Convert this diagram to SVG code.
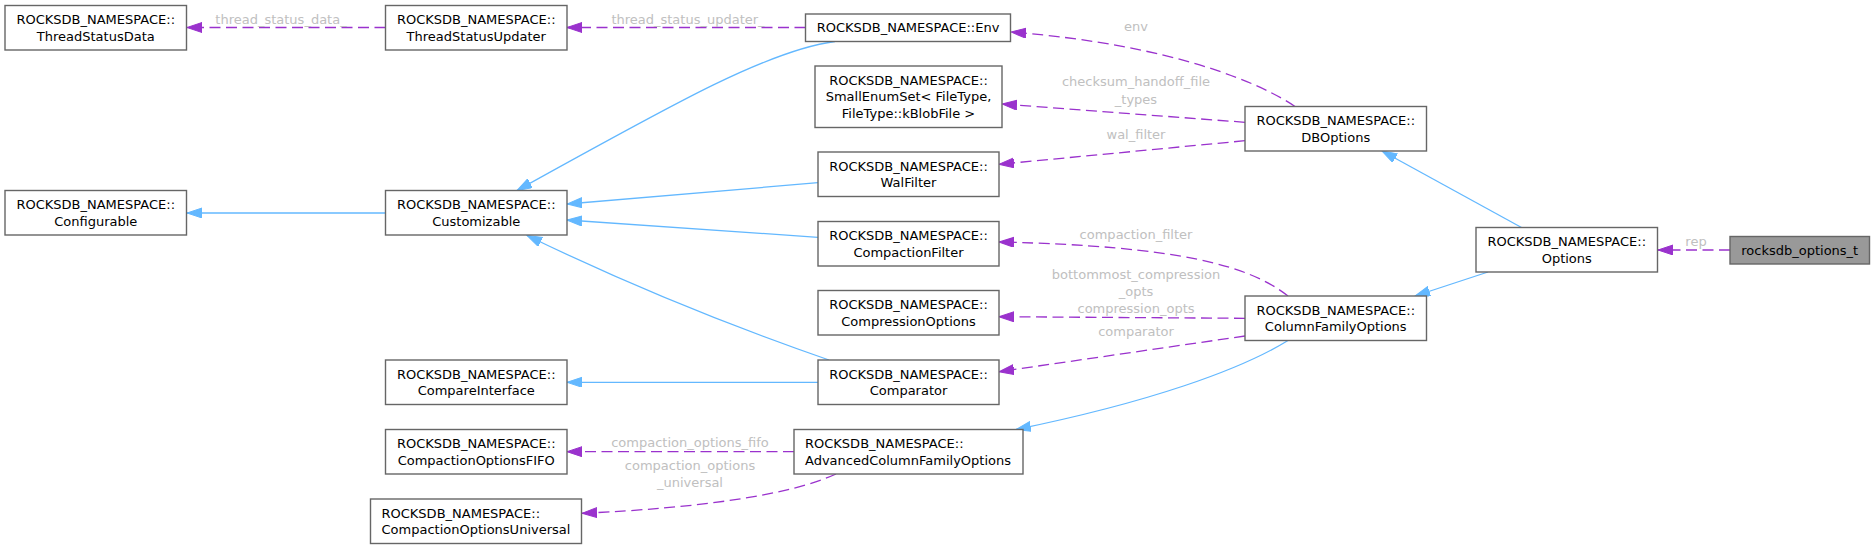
<svg xmlns="http://www.w3.org/2000/svg" width="1875" height="549" viewBox="0 0 1875 549">
<style>
.nb{fill:#ffffff;stroke:#666666;stroke-width:1.4}
.nh{fill:#999999;stroke:#666666;stroke-width:1.4}
text{font-family:"DejaVu Sans","Liberation Sans",sans-serif;font-size:13px}
.t{fill:#000000;text-anchor:middle}
.tl{fill:#000000;text-anchor:start}
.lb{fill:#c0c0c0;text-anchor:middle}
.inh{fill:none;stroke:#63b8ff;stroke-width:1.3;marker-end:url(#ab)}
.use{fill:none;stroke:#9a32cd;stroke-width:1.3;stroke-dasharray:11,5.5;marker-end:url(#ap)}
</style>
<defs>
<marker id="ab" markerUnits="userSpaceOnUse" markerWidth="16" markerHeight="11" refX="15" refY="5" orient="auto" viewBox="0 0 16 11">
<path d="M0,0 L15,5 L0,10 z" fill="#63b8ff" stroke="#63b8ff" stroke-width="1"/>
</marker>
<marker id="ap" markerUnits="userSpaceOnUse" markerWidth="16" markerHeight="11" refX="15" refY="5" orient="auto" viewBox="0 0 16 11">
<path d="M0,0 L15,5 L0,10 z" fill="#9a32cd" stroke="#9a32cd" stroke-width="1"/>
</marker>
</defs>
<g id="edges">
<path class="use" d="M385.5,27.5 L187,27.5"/>
<path class="use" d="M805.5,27.5 L567,27.5"/>
<path class="use" d="M1295,106.5 C1262,84 1175,45 1011,32"/>
<path class="use" d="M1245,122.3 L1002,104"/>
<path class="use" d="M1245,140.7 L999,164.3"/>
<path class="use" d="M1288,296 C1250,266 1180,246 999,242"/>
<path class="use" d="M1245,318.3 L999,316.7"/>
<path class="use" d="M1245,336 L999,371.7"/>
<path class="inh" d="M1288,340.5 C1240,370 1150,402 1016,429.5"/>
<path class="inh" d="M829,360 C725,324 625,283 527,235.5"/>
<path class="inh" d="M818,382.3 L567,382.3"/>
<path class="inh" d="M818,182.7 L567,204"/>
<path class="inh" d="M818,237.3 L567,220"/>
<path class="inh" d="M835,41.5 C770,50 680,100 517,190.5"/>
<path class="inh" d="M385.5,213 L187,213"/>
<path class="use" d="M794,451.7 L567,451.7"/>
<path class="use" d="M836,474 C790,495 700,508 582,513.3"/>
<path class="use" d="M1730,250 L1658,250"/>
<path class="inh" d="M1521.5,227.5 L1382,151"/>
<path class="inh" d="M1488,272 L1415,296"/>
<text class="lb" x="281" y="23.7">thread_status_data_</text>
<text class="lb" x="688" y="23.7">thread_status_updater_</text>
<text class="lb" x="1136" y="31.4">env</text>
<text class="lb" x="1136" y="86.4">checksum_handoff_file</text>
<text class="lb" x="1136" y="103.7">_types</text>
<text class="lb" x="1136" y="139.4">wal_filter</text>
<text class="lb" x="1136" y="239">compaction_filter</text>
<text class="lb" x="1136" y="279">bottommost_compression</text>
<text class="lb" x="1136" y="296.4">_opts</text>
<text class="lb" x="1136" y="313">compression_opts</text>
<text class="lb" x="1136" y="336.4">comparator</text>
<text class="lb" x="690" y="447.4">compaction_options_fifo</text>
<text class="lb" x="690" y="470.4">compaction_options</text>
<text class="lb" x="690" y="487">_universal</text>
<text class="lb" x="1696" y="246.4">rep</text>
</g>
<g id="ThreadStatusData"><rect class="nb" x="5" y="5.5" width="181.5" height="44.5"/><text class="t" x="95.75" y="24.1">ROCKSDB_NAMESPACE::</text><text class="t" x="95.75" y="40.9">ThreadStatusData</text></g>
<g id="ThreadStatusUpdater"><rect class="nb" x="385.5" y="5.5" width="181.5" height="44.5"/><text class="t" x="476.25" y="24.1">ROCKSDB_NAMESPACE::</text><text class="t" x="476.25" y="40.9">ThreadStatusUpdater</text></g>
<g id="Env"><rect class="nb" x="805.5" y="14" width="205" height="27.5"/><text class="t" x="908" y="32.4">ROCKSDB_NAMESPACE::Env</text></g>
<g id="SmallEnumSet"><rect class="nb" x="815" y="66" width="187" height="61.5"/><text class="t" x="908.5" y="84.5">ROCKSDB_NAMESPACE::</text><text class="t" x="908.5" y="101.3">SmallEnumSet&lt; FileType,</text><text class="t" x="908.5" y="118.1">FileType::kBlobFile &gt;</text></g>
<g id="DBOptions"><rect class="nb" x="1245" y="106.5" width="181.5" height="44.5"/><text class="t" x="1335.75" y="125.1">ROCKSDB_NAMESPACE::</text><text class="t" x="1335.75" y="141.9">DBOptions</text></g>
<g id="WalFilter"><rect class="nb" x="818" y="152" width="181" height="44.5"/><text class="t" x="908.5" y="170.6">ROCKSDB_NAMESPACE::</text><text class="t" x="908.5" y="187.4">WalFilter</text></g>
<g id="Configurable"><rect class="nb" x="5" y="190.5" width="181.5" height="44.5"/><text class="t" x="95.75" y="209.1">ROCKSDB_NAMESPACE::</text><text class="t" x="95.75" y="225.9">Configurable</text></g>
<g id="Customizable"><rect class="nb" x="385.5" y="190.5" width="181.5" height="44.5"/><text class="t" x="476.25" y="209.1">ROCKSDB_NAMESPACE::</text><text class="t" x="476.25" y="225.9">Customizable</text></g>
<g id="CompactionFilter"><rect class="nb" x="818" y="221.5" width="181" height="44.5"/><text class="t" x="908.5" y="240.1">ROCKSDB_NAMESPACE::</text><text class="t" x="908.5" y="256.9">CompactionFilter</text></g>
<g id="Options"><rect class="nb" x="1476" y="227.5" width="181.5" height="44.5"/><text class="t" x="1566.75" y="246.1">ROCKSDB_NAMESPACE::</text><text class="t" x="1566.75" y="262.9">Options</text></g>
<g id="rocksdb_options_t"><rect class="nh" x="1730" y="236.5" width="139.5" height="27.5"/><text class="t" x="1799.75" y="254.9">rocksdb_options_t</text></g>
<g id="CompressionOptions"><rect class="nb" x="818" y="290.5" width="181" height="44.5"/><text class="t" x="908.5" y="309.1">ROCKSDB_NAMESPACE::</text><text class="t" x="908.5" y="325.9">CompressionOptions</text></g>
<g id="ColumnFamilyOptions"><rect class="nb" x="1245" y="296" width="181.5" height="44.5"/><text class="t" x="1335.75" y="314.6">ROCKSDB_NAMESPACE::</text><text class="t" x="1335.75" y="331.4">ColumnFamilyOptions</text></g>
<g id="CompareInterface"><rect class="nb" x="385.5" y="360" width="181.5" height="44.5"/><text class="t" x="476.25" y="378.6">ROCKSDB_NAMESPACE::</text><text class="t" x="476.25" y="395.4">CompareInterface</text></g>
<g id="Comparator"><rect class="nb" x="818" y="360" width="181" height="44.5"/><text class="t" x="908.5" y="378.6">ROCKSDB_NAMESPACE::</text><text class="t" x="908.5" y="395.4">Comparator</text></g>
<g id="CompactionOptionsFIFO"><rect class="nb" x="385.5" y="429.5" width="181.5" height="44.5"/><text class="t" x="476.25" y="448.1">ROCKSDB_NAMESPACE::</text><text class="t" x="476.25" y="464.9">CompactionOptionsFIFO</text></g>
<g id="AdvancedColumnFamilyOptions"><rect class="nb" x="794" y="429.5" width="229" height="44.5"/><text class="tl" x="805" y="448.1">ROCKSDB_NAMESPACE::</text><text class="tl" x="805" y="464.9">AdvancedColumnFamilyOptions</text></g>
<g id="CompactionOptionsUniversal"><rect class="nb" x="370.5" y="499" width="211" height="44.5"/><text class="tl" x="381.5" y="517.6">ROCKSDB_NAMESPACE::</text><text class="tl" x="381.5" y="534.4">CompactionOptionsUniversal</text></g>
</svg>
